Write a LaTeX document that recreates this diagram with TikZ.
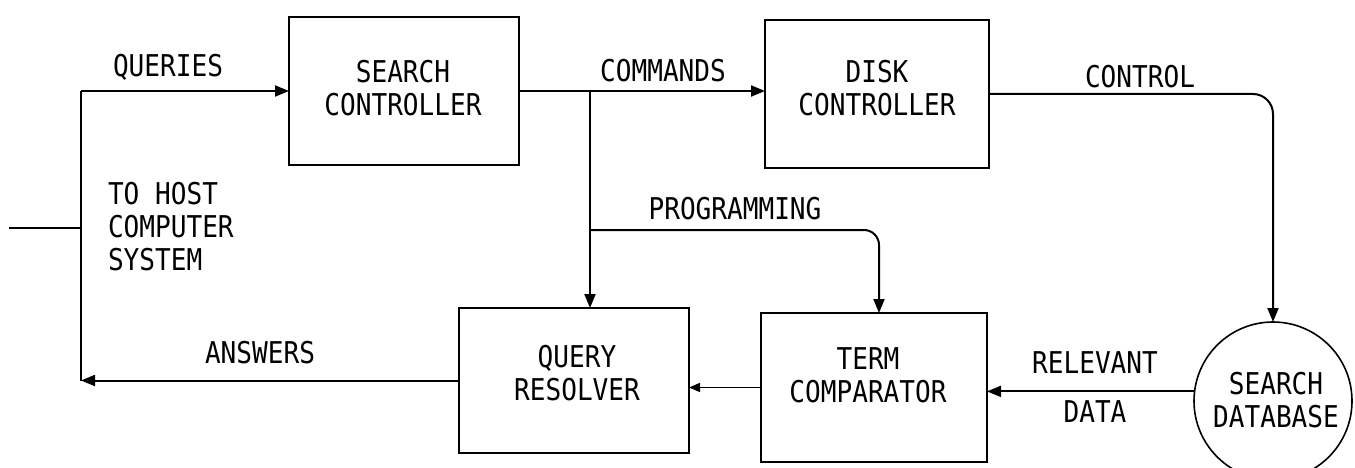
\documentclass[tikz,border=0pt]{standalone}
\usepackage{fontspec}
\newfontfamily\labfont[FakeStretch=0.87]{DejaVu Sans Mono}
\usetikzlibrary{arrows.meta}
\begin{document}
\begin{tikzpicture}[x=1pt,y=-1pt,
  every node/.style={font=\labfont\fontsize{30}{33}\selectfont, inner sep=0pt, outer sep=0pt},
  box/.style={draw, line width=2pt},
  lbl/.style={align=center},
  wire/.style={line width=2pt},
  arr/.style={wire, -{Triangle[length=14pt,width=11pt]}},
  sarr/.style={line width=1.4pt, -{Triangle[length=11pt,width=9pt]}}]
\useasboundingbox (0,0) rectangle (1355,468);
% boxes
\node[box, minimum width=230pt, minimum height=148pt] (sc) at (404,91) {};
\node[box, minimum width=224pt, minimum height=148pt] (dc) at (877,94) {};
\node[box, minimum width=230pt, minimum height=145pt] (qr) at (574,380.5) {};
\node[box, minimum width=226pt, minimum height=149pt] (tc) at (874,387.5) {};
\node[draw, line width=1.6pt, circle, minimum size=158pt] (db) at (1273,401) {};
% box texts
\node[lbl] at (403,88) {SEARCH\\CONTROLLER};
\node[lbl] at (877,88) {DISK\\CONTROLLER};
\node[lbl] at (577,373) {QUERY\\RESOLVER};
\node[lbl] at (868,375) {TERM\\COMPARATOR};
\node[lbl] at (1276,400) {SEARCH\\DATABASE};
% connector labels
\node at (168,67) {QUERIES};
\node at (663,71) {COMMANDS};
\node at (1140,77) {CONTROL};
\node at (735,209) {PROGRAMMING};
\node at (260,353) {ANSWERS};
\node at (1095,363) {RELEVANT};
\node at (1095,412) {DATA};
\node[align=left, anchor=west] at (108,227) {TO HOST\\COMPUTER\\SYSTEM};
% connectors
\coordinate (bus) at (81,0);
\coordinate (inp) at (9,228);
\coordinate (br) at (590,0);
\coordinate (pg) at (590,230);
\coordinate (tcin) at (879,0);
\draw[arr] (qr.west) -- (qr.west -| bus);
\draw[wire] (qr.west -| bus) -- (bus |- sc.west);
\draw[arr] (bus |- sc.west) -- (sc.west);
\draw[wire] (inp) -- (inp -| bus);
\draw[arr] (sc.east) -- (sc.east -| dc.west);
\draw[arr] (sc.east -| br) -- (br |- qr.north);
\draw[arr, rounded corners=15pt] (pg) -| (tcin |- tc.north);
\draw[arr, rounded corners=20pt] (dc.east) -| (db.north);
\draw[arr] (db.173) -- (db.173 -| tc.east);
\draw[sarr] (tc.west) -- (tc.west -| qr.east);
\end{tikzpicture}
\end{document}
